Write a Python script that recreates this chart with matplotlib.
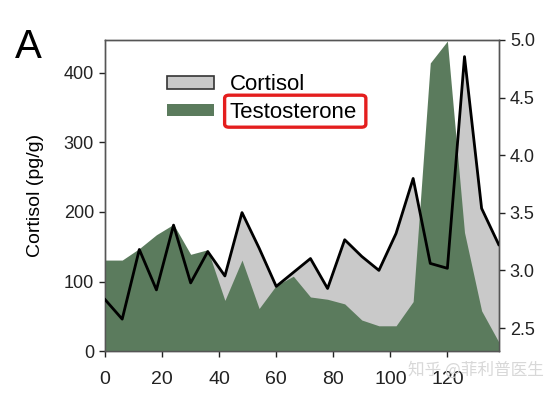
import matplotlib
matplotlib.use('Agg')
import matplotlib.pyplot as plt
from matplotlib.patches import Patch, FancyBboxPatch

plt.rcParams['font.family'] = ['Liberation Sans', 'DejaVu Sans']

# sample times (days)
days = [0, 6, 12, 18, 24, 30, 36, 42, 48, 54, 60, 66, 72, 78, 84, 90,
        96, 102, 108, 114, 120, 126, 132, 138]
# cortisol, pg/g (left axis)
cortisol = [74, 46, 146, 88, 181, 98, 143, 108, 199, 148, 93, 113, 133, 90,
            160, 136, 116, 169, 248, 126, 119, 423, 205, 153]
# testosterone (right axis)
testosterone = [3.09, 3.09, 3.19, 3.31, 3.40, 3.14, 3.18, 2.74, 3.09, 2.67,
                2.87, 2.95, 2.77, 2.75, 2.71, 2.57, 2.52, 2.52, 2.73, 4.80,
                4.99, 3.33, 2.65, 2.38]

green = '#5b7b5d'
grey = '#c9c9c9'

fig = plt.figure(figsize=(5.56, 3.95), dpi=100)
ax = fig.add_axes([0.189, 0.111, 0.708, 0.788])
ax2 = ax.twinx()

ax.fill_between(days, 0, cortisol, color=grey, lw=0)
ax2.fill_between(days, 2.3, testosterone, color=green, lw=0)
# cortisol outline drawn over the green area, in cortisol units
ax2.plot(days, cortisol, color='black', lw=2.0, transform=ax.transData,
         zorder=5)

ax.set_xlim(0, 138)
ax.set_ylim(0, 447)
ax2.set_ylim(2.3, 5.0)
ax.set_xticks([0, 20, 40, 60, 80, 100, 120])
ax.set_yticks([0, 100, 200, 300, 400])
ax2.set_yticks([2.5, 3.0, 3.5, 4.0, 4.5, 5.0])
ax2.set_yticklabels(['2.5', '3.0', '3.5', '4.0', '4.5', '5.0'])

for a in (ax, ax2):
    a.tick_params(labelsize=13, length=4, width=1, colors='#222222',
                  direction='out', pad=4)
    for s in a.spines.values():
        s.set_color('#555555')
        s.set_linewidth(1)
ax.tick_params(axis='x', pad=10, labelsize=14)

ax.set_ylabel('Cortisol (pg/g)', fontsize=14, labelpad=14)
fig.text(0.026, 0.93, 'A', fontsize=29, va='top', ha='left')

handles = [Patch(facecolor=grey, edgecolor='#333333', lw=1.2, label='Cortisol'),
           Patch(facecolor=green, edgecolor='none', label='Testosterone')]
ax2.legend(handles=handles, loc='upper left', bbox_to_anchor=(0.13, 0.925),
           frameon=False, fontsize=16, handlelength=2.1, handleheight=0.5,
           handletextpad=0.7, labelspacing=0.3, borderpad=0)

# red highlight box around "Testosterone"
box = FancyBboxPatch((0.404, 0.678), 0.254, 0.081, transform=fig.transFigure,
                     boxstyle='round,pad=0,rounding_size=0.008',
                     fill=False, ec='#e41e1e', lw=2.4)
fig.patches.append(box)

fig.text(0.734, 0.062, '知乎 @菲利普医生', fontsize=12, color='#d8d8d8',
         family=['Noto Sans CJK SC', 'DejaVu Sans'], va='center')

fig.savefig('out.png', dpi=100)
